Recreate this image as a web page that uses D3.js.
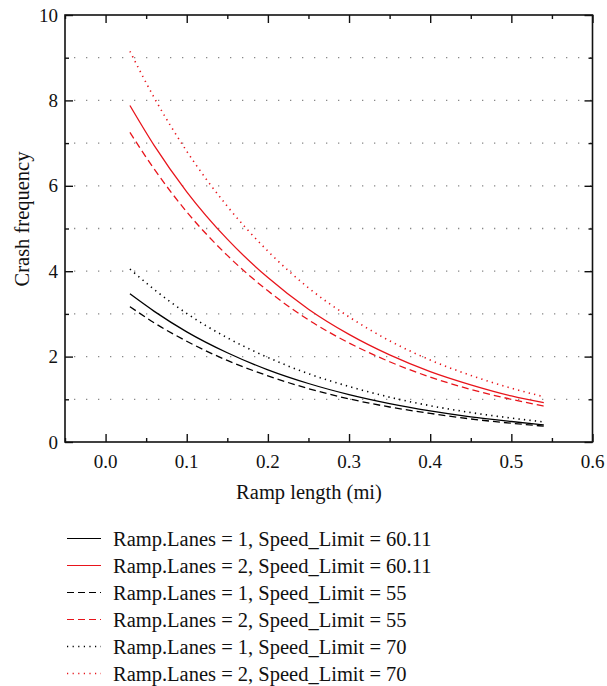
<!DOCTYPE html>
<html lang="en">
<head>
<meta charset="UTF-8">
<title>Crash frequency vs ramp length</title>
<script src="https://d3js.org/d3.v7.min.js"></script>
<style>
  body { margin: 0; background: #fff; }
  text { font-family: "Liberation Serif", "DejaVu Serif", serif; fill: #111; }
</style>
</head>
<body>
<div id="chart"></div>
<script>
// ramp length (mi)
var rampLength = [0.03, 0.06, 0.10, 0.15, 0.20, 0.25, 0.30, 0.35, 0.40, 0.45, 0.50, 0.54];

var lanes1Speed6011 = [3.47, 3.06, 2.58, 2.09, 1.69, 1.37, 1.11, 0.90, 0.73, 0.59, 0.48, 0.40];
var lanes2Speed6011 = [7.88, 6.94, 5.86, 4.75, 3.85, 3.11, 2.52, 2.04, 1.65, 1.34, 1.08, 0.92];
var lanes1Speed55   = [3.17, 2.79, 2.36, 1.91, 1.55, 1.25, 1.01, 0.82, 0.67, 0.54, 0.44, 0.37];
var lanes2Speed55   = [7.25, 6.39, 5.39, 4.37, 3.54, 2.86, 2.32, 1.88, 1.52, 1.23, 1.00, 0.84];
var lanes1Speed70   = [4.05, 3.57, 3.01, 2.44, 1.98, 1.60, 1.30, 1.05, 0.85, 0.69, 0.56, 0.47];
var lanes2Speed70   = [9.15, 8.06, 6.81, 5.52, 4.47, 3.61, 2.93, 2.37, 1.92, 1.56, 1.26, 1.06];

var seriesNames = [
  "Ramp.Lanes = 1, Speed_Limit = 60.11",
  "Ramp.Lanes = 2, Speed_Limit = 60.11",
  "Ramp.Lanes = 1, Speed_Limit = 55",
  "Ramp.Lanes = 2, Speed_Limit = 55",
  "Ramp.Lanes = 1, Speed_Limit = 70",
  "Ramp.Lanes = 2, Speed_Limit = 70"
];
var seriesValues = [lanes1Speed6011, lanes2Speed6011, lanes1Speed55, lanes2Speed55, lanes1Speed70, lanes2Speed70];

var xTicks = [0.0, 0.1, 0.2, 0.3, 0.4, 0.5, 0.6];
var yTicks = [0, 2, 4, 6, 8, 10];

var colors = ["#000", "#e8141b", "#000", "#e8141b", "#000", "#e8141b"];
var dashes = [null, null, "7,4", "7,4", "1.3,4.2", "1.3,4.2"];

var width = 607, height = 686;
var plotLeft = 65, plotRight = 592.5, plotTop = 15, plotBottom = 442;
var serif = "'Liberation Serif', 'DejaVu Serif', serif";

var svg = d3.select("#chart").append("svg")
    .attr("width", width)
    .attr("height", height)
    .attr("font-family", serif);

var x = d3.scaleLinear().domain([-0.05, 0.6]).range([plotLeft, plotRight]);
var y = d3.scaleLinear().domain([0, 10]).range([plotBottom, plotTop]);

// dotted grid lines at every unit
svg.append("g")
  .selectAll("line")
  .data(d3.range(1, 10))
  .join("line")
    .attr("x1", plotLeft)
    .attr("x2", plotRight)
    .attr("y1", function(d) { return y(d); })
    .attr("y2", function(d) { return y(d); })
    .attr("stroke", "#888")
    .attr("stroke-width", 1.3)
    .attr("stroke-dasharray", "1.3,10.7")
    .attr("stroke-dashoffset", -9);

// axes with inward ticks
function tickAxis(axis, values, size, transform) {
  svg.append("g")
    .attr("transform", transform)
    .call(axis.tickValues(values).tickSize(size).tickFormat(""))
    .call(function(g) {
      g.select(".domain").remove();
      g.selectAll("line").attr("stroke", "#111").attr("stroke-width", 1.4);
    });
}
var xMinor = d3.range(-0.05, 0.6, 0.05).filter(function(d) { return Math.abs(Math.round(d * 10) - d * 10) > 0.01; });
var yMinor = [1, 3, 5, 7, 9];

tickAxis(d3.axisTop(x), xTicks, 8, "translate(0," + plotBottom + ")");
tickAxis(d3.axisTop(x), xMinor, 4, "translate(0," + plotBottom + ")");
tickAxis(d3.axisBottom(x), xTicks, 8, "translate(0," + plotTop + ")");
tickAxis(d3.axisBottom(x), xMinor, 4, "translate(0," + plotTop + ")");
tickAxis(d3.axisRight(y), yTicks, 8, "translate(" + plotLeft + ",0)");
tickAxis(d3.axisRight(y), yMinor, 4, "translate(" + plotLeft + ",0)");
tickAxis(d3.axisLeft(y), yTicks, 8, "translate(" + plotRight + ",0)");
tickAxis(d3.axisLeft(y), yMinor, 4, "translate(" + plotRight + ",0)");

// frame
svg.append("rect")
    .attr("x", plotLeft)
    .attr("y", plotTop)
    .attr("width", plotRight - plotLeft)
    .attr("height", plotBottom - plotTop)
    .attr("fill", "none")
    .attr("stroke", "#111")
    .attr("stroke-width", 1.6);

// tick labels
svg.append("g")
  .selectAll("text")
  .data(xTicks)
  .join("text")
    .attr("x", function(d) { return x(d); })
    .attr("y", 468)
    .attr("text-anchor", "middle")
    .attr("font-size", 19)
    .text(function(d) { return d3.format(".1f")(d); });

svg.append("g")
  .selectAll("text")
  .data(yTicks)
  .join("text")
    .attr("x", plotLeft - 7)
    .attr("y", function(d) { return y(d) + 6.5; })
    .attr("text-anchor", "end")
    .attr("font-size", 19)
    .text(function(d) { return d; });

// axis titles
svg.append("text")
    .attr("x", 309)
    .attr("y", 499)
    .attr("text-anchor", "middle")
    .attr("font-size", 20.5)
    .text("Ramp length (mi)");

svg.append("text")
    .attr("transform", "translate(29,219) rotate(-90)")
    .attr("text-anchor", "middle")
    .attr("font-size", 20.5)
    .text("Crash frequency");

// curves
var line = d3.line()
    .x(function(d, i) { return x(rampLength[i]); })
    .y(function(d) { return y(d); })
    .curve(d3.curveMonotoneX);

svg.append("g")
  .selectAll("path")
  .data(seriesValues)
  .join("path")
    .attr("d", line)
    .attr("fill", "none")
    .attr("stroke", function(d, i) { return colors[i]; })
    .attr("stroke-width", function(d, i) { return i >= 4 ? 1.6 : 1.3; })
    .attr("stroke-dasharray", function(d, i) { return dashes[i]; });

// legend
var legend = svg.append("g")
  .selectAll("g")
  .data(seriesNames)
  .join("g")
    .attr("transform", function(d, i) { return "translate(67," + (538.5 + i * 27) + ")"; });

legend.append("line")
    .attr("x1", 0)
    .attr("x2", 34)
    .attr("stroke", function(d, i) { return colors[i]; })
    .attr("stroke-width", function(d, i) { return i >= 4 ? 1.4 : 1.2; })
    .attr("stroke-dasharray", function(d, i) { return i >= 4 ? "1.2,4.4" : dashes[i]; });

legend.append("text")
    .attr("x", 46)
    .attr("y", 7)
    .attr("font-size", 20.5)
    .text(function(d) { return d; });
</script>
</body>
</html>
